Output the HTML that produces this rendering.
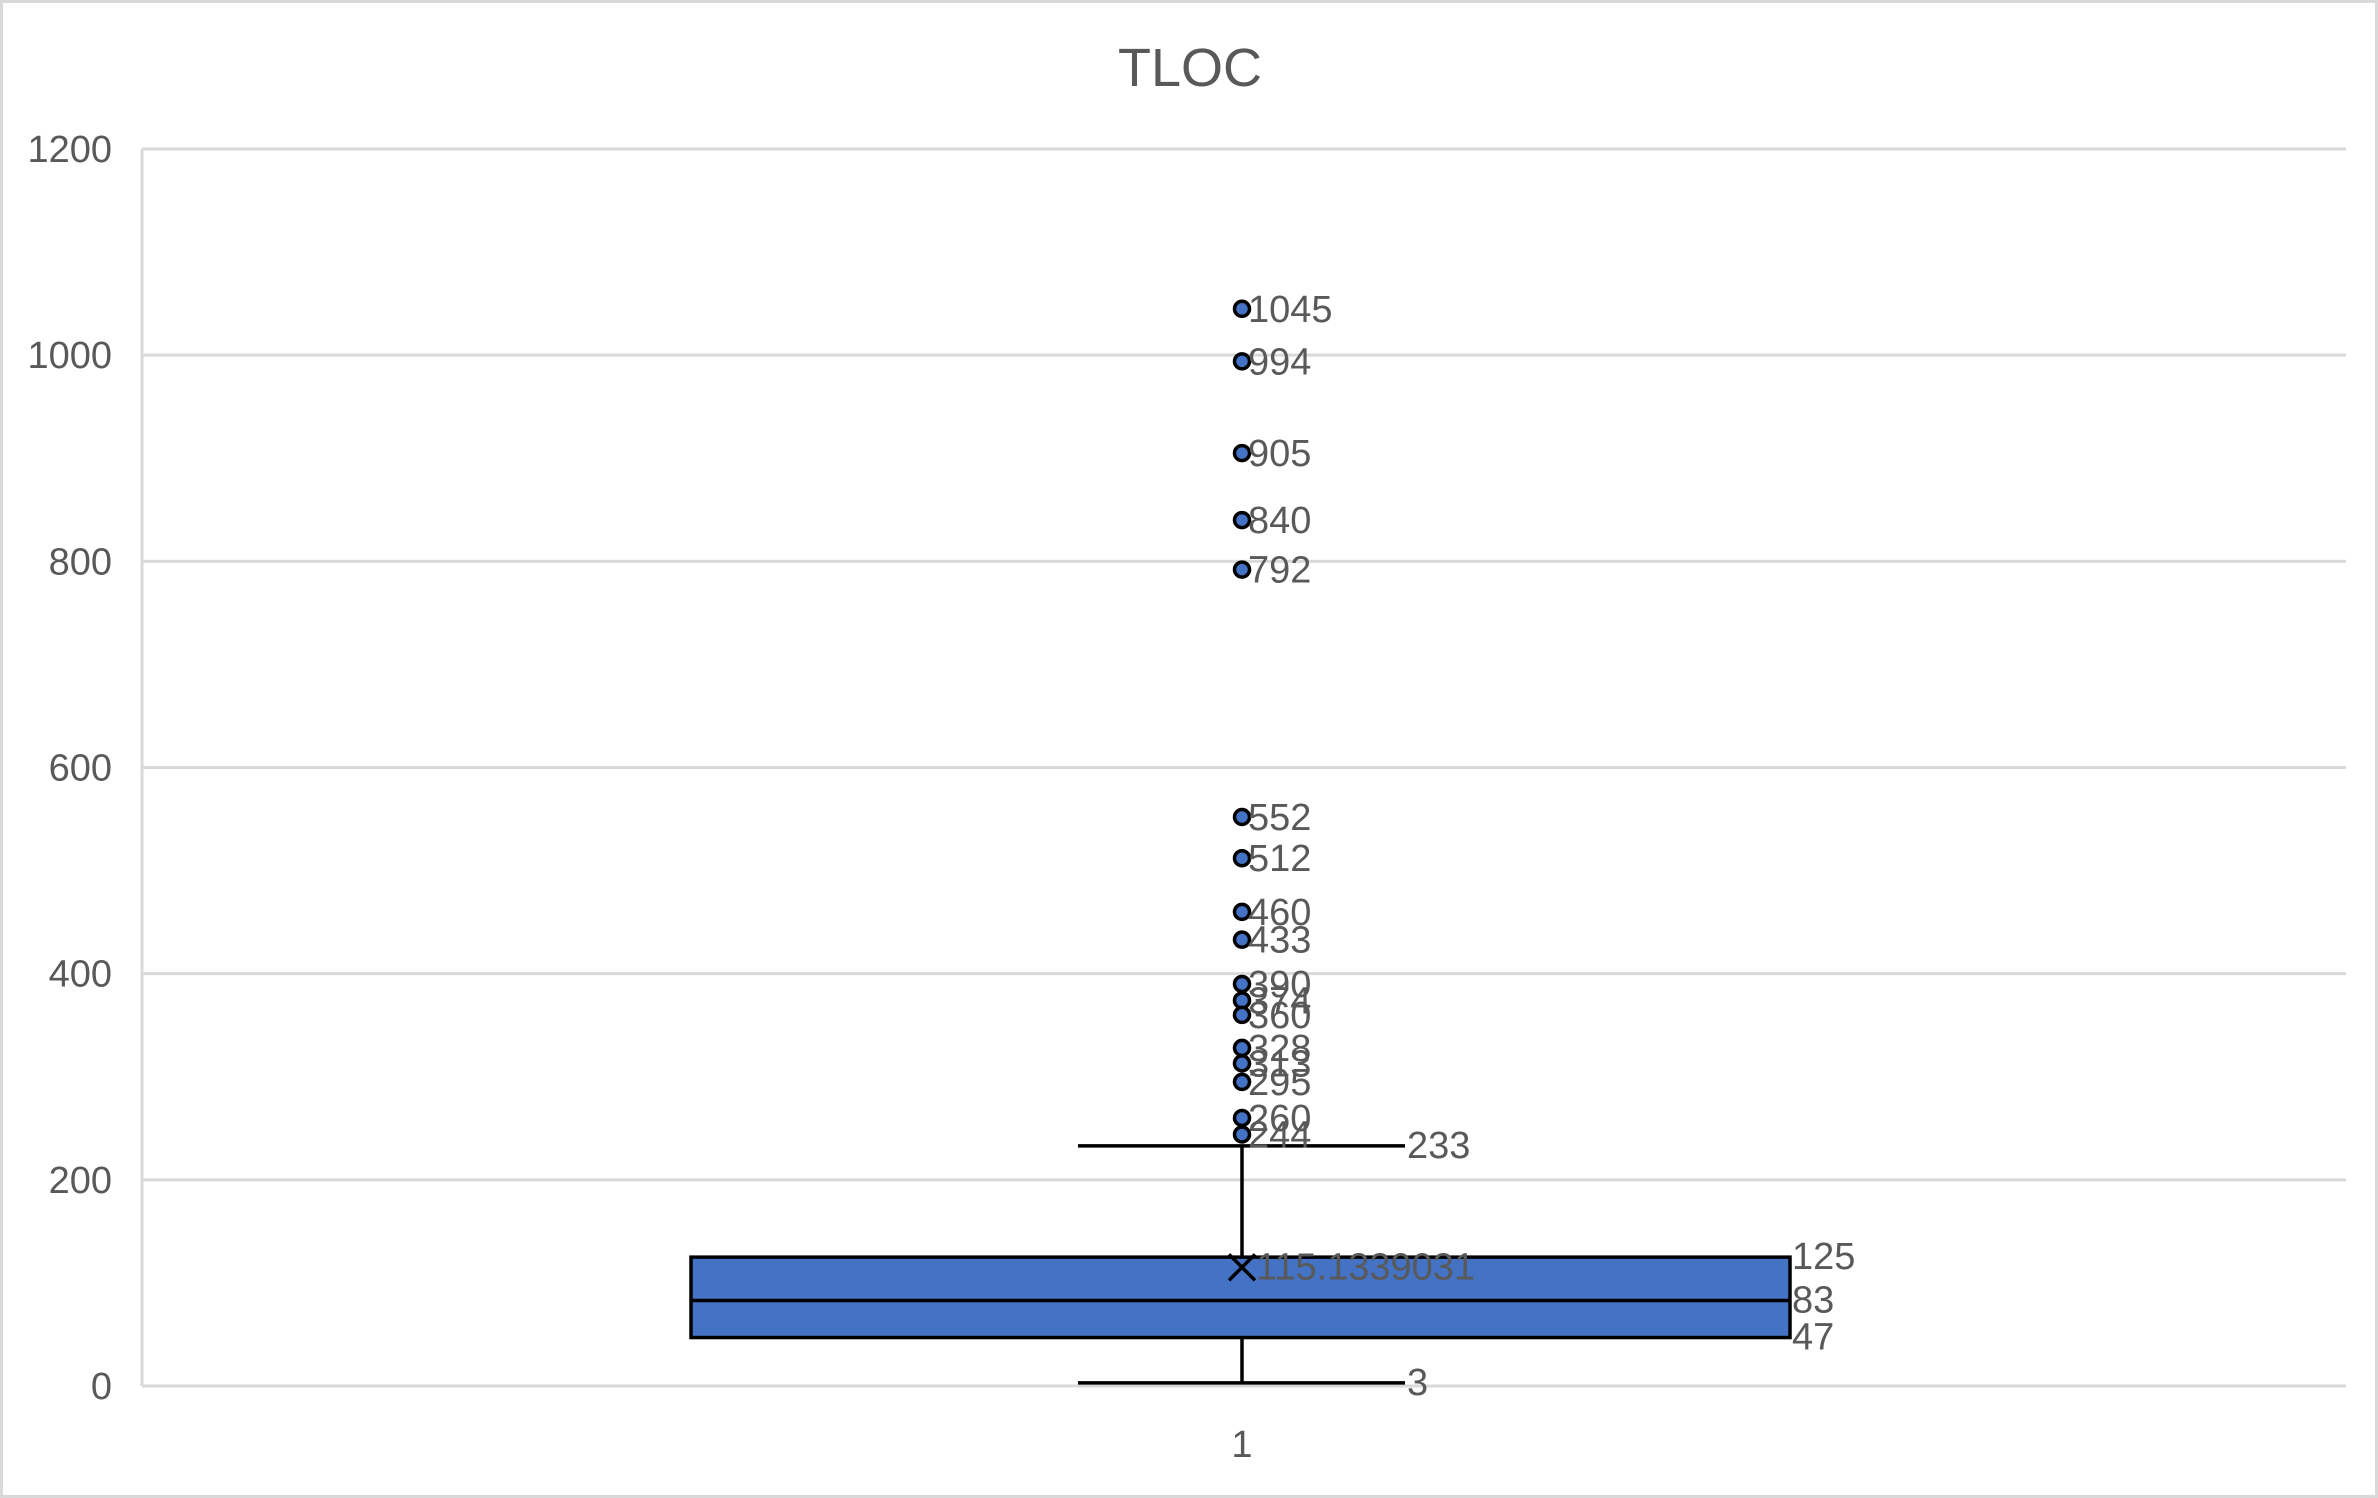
<!DOCTYPE html>
<html><head><meta charset="utf-8"><style>
html,body{margin:0;padding:0;background:#fff}
svg{display:block;font-family:"Liberation Sans",sans-serif}
</style></head><body>
<svg id="chart" width="2378" height="1498" viewBox="0 0 2378 1498">
<rect x="1.5" y="1.5" width="2375" height="1495" fill="#fff" stroke="#d9d9d9" stroke-width="3"/>
<text x="1190" y="86" font-size="54" fill="#595959" text-anchor="middle">TLOC</text>
<g id="grid"></g><g id="marks"></g>
</svg>
<script>
const yTicks=[0,200,400,600,800,1000,1200];
const categories=["1"];
const q1=[47], median=[83], q3=[125], whiskerLow=[3], whiskerHigh=[233], mean=[115.1339031];
const outliers=[1045,994,905,840,792,552,512,460,433,390,374,360,328,313,295,260,244];
const meanLabels=["115.1339031"];
const NS="http://www.w3.org/2000/svg";
const L=142,R=2346,T=149,B=1386;
const y=v=>B-(v/1200)*(B-T);
const cx=1242;
function mk(tag,attrs,parent,txt){const e=document.createElementNS(NS,tag);for(const k in attrs)e.setAttribute(k,attrs[k]);if(txt!==undefined)e.textContent=txt;parent.appendChild(e);return e;}
const grid=document.getElementById('grid'),marks=document.getElementById('marks');
yTicks.forEach(t=>{
  const g=mk('line',{x1:L,x2:R,y1:y(t),y2:y(t),stroke:'#d9d9d9','stroke-width':3},grid);
  
  
  const tx=mk('text',{x:112,y:y(t)+13,'font-size':38,fill:'#595959','text-anchor':'end'},grid,String(t));
  
  
});
const ax=mk('line',{x1:L,x2:L,y1:T,y2:B,stroke:'#d9d9d9','stroke-width':3},grid);


const cat=mk('text',{x:cx,y:1457,'font-size':38,fill:'#595959','text-anchor':'middle'},grid,categories[0]);


const bx1=691,bx2=1790,cap1=1078,cap2=1405;
const st={stroke:'#000','stroke-width':3.5};
let e;
e=mk('line',Object.assign({x1:cx,x2:cx,y1:y(whiskerHigh[0]),y2:y(q3[0])},st),marks);

e=mk('line',Object.assign({x1:cx,x2:cx,y1:y(q1[0]),y2:y(whiskerLow[0])},st),marks);

e=mk('line',Object.assign({x1:cap1,x2:cap2,y1:y(whiskerHigh[0]),y2:y(whiskerHigh[0])},st),marks);

e=mk('line',Object.assign({x1:cap1,x2:cap2,y1:y(whiskerLow[0]),y2:y(whiskerLow[0])},st),marks);

e=mk('rect',Object.assign({x:bx1,y:y(q3[0]),width:bx2-bx1,height:y(q1[0])-y(q3[0]),fill:'#4472c4'},st),marks);

e=mk('line',Object.assign({x1:bx1,x2:bx2,y1:y(median[0]),y2:y(median[0])},st),marks);

const my=y(mean[0]);
e=mk('path',{d:`M${cx-13},${my-13}L${cx+13},${my+13}M${cx-13},${my+13}L${cx+13},${my-13}`,stroke:'#000','stroke-width':3.5,fill:'none'},marks);

e=mk('text',{x:cx+14,y:my+12,'font-size':38,fill:'#595959'},marks,meanLabels[0]);

[[whiskerHigh[0],cap2+2],[whiskerLow[0],cap2+2],[q3[0],bx2+2],[median[0],bx2+2],[q1[0],bx2+2]].forEach(([v,x])=>{
  const t=mk('text',{x:x,y:y(v)+12,'font-size':38,fill:'#595959'},marks,String(v));
  
  
});
outliers.forEach(v=>{
  const c=mk('circle',{cx:cx,cy:y(v),r:7.5,fill:'#4472c4',stroke:'#000','stroke-width':3.5},marks);
  
  
  const t=mk('text',{x:cx+6,y:y(v)+13,'font-size':38,fill:'#595959'},marks,String(v));
  
  
});
</script>
</body></html>
